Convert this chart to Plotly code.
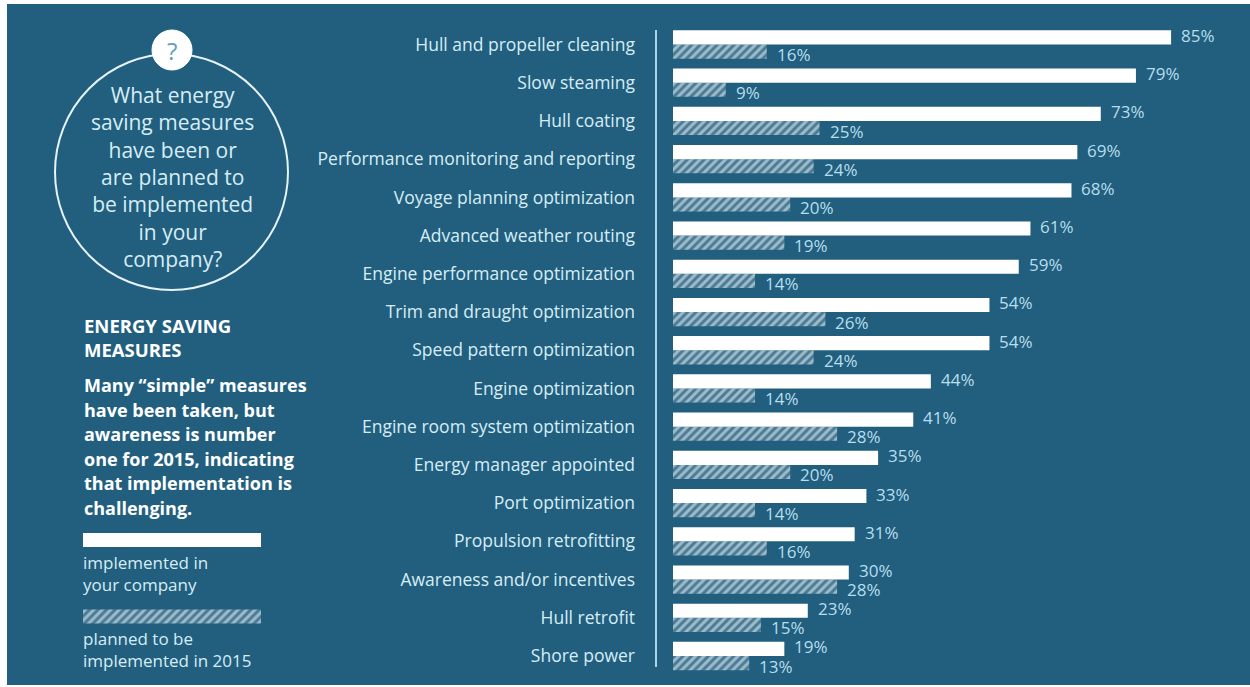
import plotly.graph_objects as go

# Survey results: share of companies (%) per energy saving measure
categories = [
    "Hull and propeller cleaning",
    "Slow steaming",
    "Hull coating",
    "Performance monitoring and reporting",
    "Voyage planning optimization",
    "Advanced weather routing",
    "Engine performance optimization",
    "Trim and draught optimization",
    "Speed pattern optimization",
    "Engine optimization",
    "Engine room system optimization",
    "Energy manager appointed",
    "Port optimization",
    "Propulsion retrofitting",
    "Awareness and/or incentives",
    "Hull retrofit",
    "Shore power",
]
implemented = [85, 79, 73, 69, 68, 61, 59, 54, 54, 44, 41, 35, 33, 31, 30, 23, 19]
planned = [16, 9, 25, 24, 20, 19, 14, 26, 24, 14, 28, 20, 14, 16, 28, 15, 13]

question_lines = ["What energy", "saving measures", "have been or", "are planned to",
                  "be implemented", "in your", "company?"]
heading_lines = ["ENERGY SAVING", "MEASURES"]
body_lines = ["Many \u201csimple\u201d measures", "have been taken, but", "awareness is number",
              "one for 2015, indicating", "that implementation is", "challenging."]
legend_implemented = ["implemented in", "your company"]
legend_planned = ["planned to be", "implemented in 2015"]

W, H = 1250, 687
BG = "#225f7f"
LABEL = "#d6edf5"
VALUE = "#b6deec"
HATCH_FG = "#f4fafc"
HATCH_BG = "rgba(255,255,255,0.18)"
FONT = "Open Sans"


def px(x):
    return x / W


def py(y):
    return 1 - y / H


rows = list(range(len(categories)))
bar_w = 0.37
hatch = dict(shape="/", fgcolor=HATCH_FG, size=6, solidity=0.5)

fig = go.Figure()

fig.add_trace(go.Bar(
    y=rows, x=implemented, orientation="h", width=bar_w, offset=-bar_w,
    marker=dict(color="white", line=dict(width=0)),
    hoverinfo="skip", showlegend=False,
))
fig.add_trace(go.Bar(
    y=rows, x=planned, orientation="h", width=bar_w, offset=0,
    marker=dict(color=HATCH_BG, line=dict(width=0), pattern=hatch),
    hoverinfo="skip", showlegend=False,
))

# Legend swatches on their own small axis
fig.add_trace(go.Bar(
    y=[0], x=[1], orientation="h", width=0.183, xaxis="x2", yaxis="y2",
    marker=dict(color="white", line=dict(width=0)),
    hoverinfo="skip", showlegend=False,
))
fig.add_trace(go.Bar(
    y=[1], x=[1], orientation="h", width=0.183, xaxis="x2", yaxis="y2",
    marker=dict(color=HATCH_BG, line=dict(width=0), pattern=hatch),
    hoverinfo="skip", showlegend=False,
))

annotations = []
# value labels
for i, (a, b) in enumerate(zip(implemented, planned)):
    annotations.append(dict(x=a, y=i - bar_w / 2, xref="x", yref="y", text=f"{a}%",
                            showarrow=False, xanchor="left", yanchor="middle", xshift=8,
                            yshift=2, font=dict(family=FONT, size=17, color=VALUE)))
    annotations.append(dict(x=b, y=i + bar_w / 2, xref="x", yref="y", text=f"{b}%",
                            showarrow=False, xanchor="left", yanchor="middle", xshift=8,
                            yshift=-3, font=dict(family=FONT, size=17, color=VALUE)))

# question in the circle
annotations.append(dict(x=px(172), y=py(177), xref="paper", yref="paper",
                        text="<br>".join(question_lines), showarrow=False,
                        xanchor="center", yanchor="middle", align="center",
                        font=dict(family=FONT, size=21, color=LABEL)))
annotations.append(dict(x=px(172), y=py(50), xref="paper", yref="paper", text="?",
                        showarrow=False, xanchor="center", yanchor="middle",
                        font=dict(family=FONT, size=24, color="#5e9fbd")))

for k, line in enumerate(heading_lines):
    annotations.append(dict(x=px(82), y=py(325 + k * 24.5), xref="paper", yref="paper",
                            text=f"<b>{line}</b>", showarrow=False, xanchor="left",
                            yanchor="middle", font=dict(family=FONT, size=18.5, color="white")))
for k, line in enumerate(body_lines):
    annotations.append(dict(x=px(82), y=py(385 + k * 24.6), xref="paper", yref="paper",
                            text=f"<b>{line}</b>", showarrow=False, xanchor="left",
                            yanchor="middle", font=dict(family=FONT, size=18, color="white")))
annotations.append(dict(x=px(81), y=py(573), xref="paper", yref="paper",
                        text="<br>".join(legend_implemented), showarrow=False,
                        xanchor="left", yanchor="middle", align="left",
                        font=dict(family=FONT, size=17, color=LABEL)))
annotations.append(dict(x=px(81), y=py(649), xref="paper", yref="paper",
                        text="<br>".join(legend_planned), showarrow=False,
                        xanchor="left", yanchor="middle", align="left",
                        font=dict(family=FONT, size=17, color=LABEL)))

shapes = [
    # panel background with a thin white frame on the left/top
    dict(type="rect", xref="paper", yref="paper", x0=px(7), x1=1, y0=py(685), y1=py(4),
         fillcolor=BG, line=dict(width=0), layer="below"),
    # divider between labels and bars
    dict(type="line", xref="paper", yref="paper", x0=px(656), x1=px(656), y0=py(30),
         y1=py(667), line=dict(color="#a9d5e6", width=2)),
    # question circle
    dict(type="circle", xref="paper", yref="paper", x0=px(55), x1=px(288), y0=py(290),
         y1=py(54), line=dict(color="#e6f3f8", width=2)),
    dict(type="circle", xref="paper", yref="paper", x0=px(152), x1=px(192), y0=py(70),
         y1=py(30), fillcolor="white", line=dict(color="white", width=1)),
]

y_top, y_bot = 44.5 - 19.1, 656 + 19.1

fig.update_layout(
    width=W, height=H,
    margin=dict(l=0, r=0, t=0, b=0),
    paper_bgcolor="white",
    plot_bgcolor="rgba(0,0,0,0)",
    barmode="overlay",
    xaxis=dict(domain=[px(673), 1], range=[0, 577 / 5.86], visible=False, fixedrange=True),
    yaxis=dict(domain=[1 - y_bot / H, 1 - y_top / H], range=[len(rows) - 0.5, -0.5],
               tickvals=rows, ticktext=categories, ticks="", showgrid=False,
               zeroline=False, showline=False, ticklabelstandoff=37,
               tickfont=dict(family=FONT, size=17.5, color=LABEL)),
    xaxis2=dict(domain=[px(83), px(261)], range=[0, 1], visible=False, anchor="y2"),
    yaxis2=dict(domain=[1 - 654.75 / H, 1 - 501.75 / H], range=[1.5, -0.5], visible=False,
                anchor="x2"),
    annotations=annotations,
    shapes=shapes,
    font=dict(family=FONT),
)

fig.write_html("out.html")
